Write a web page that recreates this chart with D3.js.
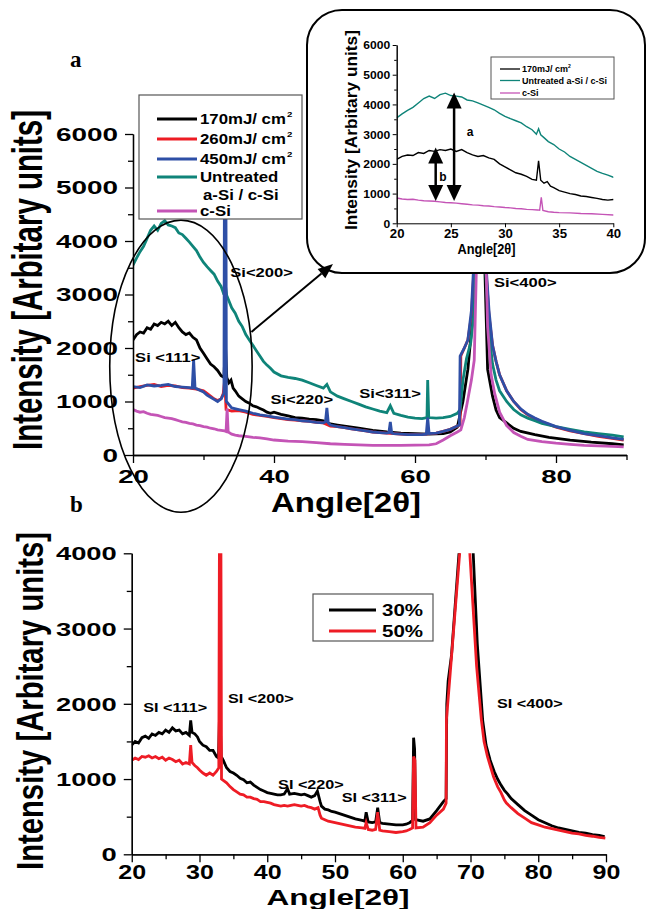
<!DOCTYPE html>
<html><head><meta charset="utf-8">
<script src="https://cdn.jsdelivr.net/npm/d3@7"></script>
<style>
body{margin:0;background:#fff}
svg{display:block}
text{font-family:"Liberation Sans",Arial,sans-serif;font-weight:bold;fill:#000}
.serif{font-family:"Liberation Serif","Times New Roman",serif}
</style>
</head><body><svg id="c" width="646" height="909"></svg>
<script>
// ---------- Panel a data: [angle 2θ, intensity] ----------
const s170 = [[20,2150],[20.5,2250],[21,2300],[21.5,2280],[22,2380],[22.5,2350],[23,2450],[23.5,2420],[24,2480],[24.5,2450],[25,2500],[25.5,2420],[26,2480],[26.5,2380],[27,2300],[27.5,2250],[28,2280],[28.5,2200],[29,2150],[29.5,2000],[30,1900],[30.5,1800],[31,1700],[31.5,1650],[32,1580],[32.5,1480],[32.9,1450],[33.1,2100],[33.3,1450],[33.6,1350],[33.9,1400],[34.2,1250],[34.5,1200],[35,1100],[35.5,1050],[36,1000],[36.5,970],[37,920],[37.5,900],[38,870],[38.5,840],[39,800],[39.5,780],[40,800],[41,760],[42,730],[43,700],[44,690],[45,670],[46,660],[47,640],[48,580],[49,560],[50,540],[52,500],[54,460],[56,430],[58,410],[60,400],[62,390],[64,400],[65,430],[66,520],[66.8,1000],[67.5,1600],[68.2,2600],[68.8,5000],[69.3,9000],[69.8,4000],[70.3,1600],[71,1100],[71.5,840],[72,700],[73,600],[74,500],[75,440],[77,380],[79,330],[82,280],[85,240],[88,210],[89.6,190]];
const s260 = [[20,1250],[21,1280],[22,1300],[23,1320],[24,1280],[25,1300],[26,1290],[27,1260],[28,1250],[29,1230],[30,1200],[30.5,1150],[31,1100],[31.5,1050],[32,1020],[32.5,1050],[32.8,1150],[33,1400],[33.2,850],[34,820],[35,830],[36,800],[37,760],[38,740],[39,720],[40,700],[41,680],[42,660],[43,650],[44,640],[45,630],[46,610],[47,600],[48,540],[49,530],[50,510],[51,490],[52,470],[53,450],[54,430],[55,420],[56,410],[57,400],[58,390],[59,380],[60,380],[61,380],[62,400],[63,410],[64,440],[65,480],[66,540],[66.4,560],[66.5,1850],[67,2000],[67.5,2150],[68,2600],[68.5,3800],[69,8000],[69.5,6000],[70,3600],[70.5,2600],[71,2050],[71.5,1750],[72,1500],[73,1200],[74,1000],[75,850],[76,750],[77,680],[78,620],[80,520],[82,450],[84,400],[86,350],[88,310],[89.6,280]];
const s450 = [[20,1280],[21,1260],[22,1310],[23,1290],[24,1300],[25,1320],[26,1280],[27,1270],[28,1260],[28.4,1250],[28.6,1780],[28.8,1250],[29,1240],[30,1180],[30.5,1120],[31,1080],[31.5,1040],[32,1000],[32.5,1050],[32.9,1150],[33.0,7000],[33.15,7000],[33.25,1000],[34,880],[35,850],[36,820],[37,780],[38,750],[39,730],[40,710],[41,690],[42,670],[43,660],[44,640],[45,630],[46,610],[47,600],[47.3,620],[47.5,880],[47.7,600],[48,560],[49,530],[50,510],[51,490],[52,470],[53,450],[54,430],[55,420],[56,410],[56.3,420],[56.5,620],[56.7,410],[57,400],[58,390],[59,380],[60,380],[61,380],[61.6,390],[61.8,700],[62.0,400],[63,410],[64,440],[65,480],[66,540],[66.3,560],[66.4,1850],[67,2000],[67.5,2150],[68,2700],[68.5,4000],[69,8000],[69.5,6000],[70,3700],[70.5,2700],[71,2050],[71.5,1750],[72,1500],[73,1200],[74,1000],[75,860],[76,760],[77,690],[78,630],[80,530],[82,460],[84,400],[86,360],[88,320],[89.6,290]];
const sUntreated = [[20,3550],[20.5,3680],[21,3800],[21.5,3900],[22,4050],[22.5,4200],[23,4280],[23.5,4200],[24,4330],[24.5,4380],[25,4300],[25.5,4280],[26,4250],[26.5,4150],[27,4120],[27.5,4050],[28,3980],[28.5,3900],[29,3820],[29.5,3700],[30,3600],[30.5,3520],[31,3450],[31.5,3380],[32,3250],[32.5,3150],[32.9,3000],[33.1,3180],[33.3,2980],[33.7,2850],[34,2750],[34.5,2650],[35,2500],[35.5,2400],[36,2250],[36.5,2150],[37,2050],[37.5,1950],[38,1850],[38.5,1750],[39,1680],[39.5,1620],[40,1550],[41,1480],[42,1450],[43,1430],[44,1400],[45,1350],[46,1300],[47,1250],[47.5,1320],[48,1180],[49,1100],[50,1050],[51,1000],[52,950],[53,900],[54,860],[55,820],[56,790],[56.5,920],[57,780],[58,740],[59,710],[60,690],[61,680],[61.7,700],[61.8,1400],[61.95,700],[63,690],[64,700],[65,720],[66,780],[66.4,850],[66.8,1400],[67.3,1800],[67.9,2100],[68.4,2700],[68.8,4500],[69.2,9000],[69.6,6000],[70,3500],[70.5,2300],[71,1700],[71.5,1400],[72,1200],[73,1000],[74,850],[75,750],[76,690],[77,640],[78,590],[80,530],[82,480],[84,430],[86,400],[88,370],[89.6,340]];
const sCSi = [[20,850],[20.5,820],[21,800],[21.5,810],[22,780],[22.5,760],[23,750],[23.5,740],[24,720],[24.5,700],[25,690],[25.5,680],[26,660],[26.5,640],[27,620],[27.5,610],[28,590],[28.5,580],[29,560],[29.5,550],[30,530],[30.5,520],[31,500],[31.5,490],[32,470],[32.5,460],[33,450],[33.2,440],[33.35,870],[33.5,430],[34,390],[34.5,370],[35,360],[36,350],[37,330],[38,320],[39,300],[40,280],[42,260],[44,250],[46,230],[48,210],[50,200],[52,190],[54,180],[56,180],[58,180],[60,185],[62,190],[63,210],[64,280],[65,360],[66,430],[66.5,470],[67,700],[67.4,970],[68,1400],[68.4,1770],[68.8,4000],[69.3,9000],[69.8,5000],[70.3,2400],[70.8,1500],[71.3,1150],[72,800],[73,550],[74,420],[75,350],[76,290],[78,250],[80,220],[82,200],[84,180],[86,170],[88,160],[89.6,150]];

const legendA = ["170mJ/ cm", "260mJ/ cm", "450mJ/ cm", "Untreated", "c-Si"];
const colorsA = ["#000000", "#ed1c24", "#2e4fa6", "#0f8479", "#c454b6"];
const peaksA = [["Si <111>",20.3,1740],["Si<200>",33.8,3330],["Si<220>",39.5,950],["Si<311>",52.1,1065],["Si<400>",71.2,3140]];
const xTicksA = [20,40,60,80], xMinorA = [30,50,70,90];
const yTicksA = [0,1000,2000,3000,4000,5000,6000], yMinorA = [500,1500,2500,3500,4500,5500];
// inset
const legendI = ["170mJ/ cm", "Untreated a-Si / c-Si", "c-Si"];
const xTicksI = [20,25,30,35,40];
const arrowsI = [["a",25.3,4400,750],["b",23.6,2550,750]];

// ---------- Panel b data ----------
const s30 = [[20,1450],[20.5,1500],[21,1480],[21.5,1550],[22,1570],[22.5,1540],[23,1600],[23.5,1580],[24,1620],[24.5,1600],[25,1650],[25.5,1620],[26,1680],[26.5,1640],[27,1650],[27.5,1600],[28,1620],[28.5,1580],[28.7,1780],[28.9,1620],[29.3,1600],[29.7,1560],[30,1500],[30.5,1450],[31,1430],[31.5,1380],[32,1380],[32.5,1300],[32.8,1280],[33,2000],[33.2,1300],[33.5,1250],[34,1150],[34.5,1100],[35,1080],[35.5,1050],[36,1010],[36.5,990],[37,950],[37.5,960],[38,920],[38.5,890],[39,860],[39.5,840],[40,820],[40.5,810],[41,800],[41.5,790],[42,790],[42.5,800],[43,870],[43.3,800],[44,810],[44.5,800],[45,790],[45.5,800],[46,780],[46.5,760],[47,780],[47.4,840],[47.8,700],[48,640],[48.5,600],[49,590],[49.5,570],[50,560],[51,530],[52,500],[53,470],[54,450],[54.4,440],[54.6,560],[54.9,430],[55.5,420],[56,430],[56.3,620],[56.6,420],[57,410],[58,400],[59,390],[60,390],[60.5,400],[61,420],[61.45,450],[61.6,1550],[61.75,1400],[61.9,460],[63,440],[64,470],[65,580],[66,700],[66.4,740],[66.5,2000],[66.7,2300],[67.2,2650],[68.3,4000],[68.6,5000],[70.1,5000],[70.4,4000],[71,2800],[71.8,1780],[72.3,1450],[72.9,1250],[73.5,1100],[74,1000],[74.5,920],[75,850],[75.5,800],[76,740],[77,660],[78,580],[79,520],[80,460],[81,420],[82,380],[83,350],[84,330],[85,310],[86,290],[87,280],[88,260],[89,250],[89.8,235]];
const s50 = [[20,1250],[20.5,1280],[21,1260],[21.5,1300],[22,1290],[22.5,1310],[23,1280],[23.5,1300],[24,1270],[24.5,1290],[25,1250],[25.5,1280],[26,1260],[26.5,1230],[27,1250],[27.5,1200],[28,1220],[28.5,1200],[28.7,1450],[28.9,1220],[29.3,1180],[29.7,1150],[30,1120],[30.5,1080],[31,1050],[31.5,1080],[32,1050],[32.5,1100],[32.85,1150],[32.95,4500],[33.15,4500],[33.25,1000],[34,950],[34.5,900],[35,860],[35.5,830],[36,800],[36.5,790],[37,760],[37.5,760],[38,740],[38.5,730],[39,700],[39.5,700],[40,690],[40.5,680],[41,660],[41.5,650],[42,640],[42.5,650],[43,640],[43.5,650],[44,660],[44.5,650],[45,640],[45.5,650],[46,630],[46.5,620],[47,600],[47.5,620],[47.8,520],[48,480],[48.5,460],[49,440],[49.5,430],[50,420],[51,400],[52,380],[53,360],[54,350],[54.4,345],[54.6,420],[54.9,330],[55.5,320],[56,330],[56.3,560],[56.6,320],[57,310],[58,300],[59,290],[60,300],[60.5,310],[61,330],[61.45,350],[61.6,1300],[61.8,1250],[61.95,350],[63,360],[64,420],[65,520],[66,600],[66.4,680],[66.45,1790],[67,2400],[67.7,3200],[68.4,4000],[68.8,5000],[69.6,5000],[69.9,4000],[70.9,2500],[71.6,1790],[72,1500],[72.5,1300],[73,1150],[73.4,1030],[74,900],[74.5,820],[75,720],[75.3,680],[76,620],[77,540],[78,480],[79,420],[80,390],[81,360],[82,340],[83,320],[84,300],[85,280],[86,270],[87,250],[88,240],[89,225],[89.9,215]];
const legendB = ["30%", "50%"];
const colorsB = ["#000000", "#ee1c25"];
const peaksB = [["SI <111>",21.7,1890],["SI <200>",34.2,2010],["SI <220>",41.6,870],["SI <311>",51.0,697],["SI <400>",73.9,1945]];
const xTicksB = [20,30,40,50,60,70,80,90], xMinorB = [25,35,45,55,65,75,85];
const yTicksB = [0,1000,2000,3000,4000], yMinorB = [500,1500,2500,3500];

// ---------- scales ----------
const xA = d3.scaleLinear().domain([20,90]).range([133,626.5]);
const yA = d3.scaleLinear().domain([0,6000]).range([455,134]);
const xI = d3.scaleLinear().domain([20,40]).range([396.7,613.3]);
const yI = d3.scaleLinear().domain([0,6000]).range([223.3,45]);
const xB = d3.scaleLinear().domain([20,90]).range([131.75,606]);
const yB = d3.scaleLinear().domain([0,4000]).range([854.3,553.3]);

const svg = d3.select('#c');
const defs = svg.append('defs');
function clip(id, x, y) {
  defs.append('clipPath').attr('id', id).append('rect')
    .attr('x', x.range()[0]).attr('y', y.range()[1])
    .attr('width', x.range()[1]-x.range()[0]).attr('height', y.range()[0]-y.range()[1]);
}
clip('cA', xA, yA); clip('cI', xI, yI); clip('cB', xB, yB);

function drawAxes(x, y, o) {
  const g = svg.append('g');
  const y0 = y.range()[0], x0 = x.range()[0];
  const style = sel => { sel.select('.domain').attr('stroke','#000').attr('stroke-width', o.sw); sel.selectAll('.tick line').attr('stroke','#000').attr('stroke-width', o.sw); sel.attr('font-family', null); };
  const xb = g.append('g').attr('transform', `translate(0,${y0})`)
    .call(d3.axisBottom(x).tickValues(o.xt).tickSize(o.tl).tickSizeOuter(0).tickFormat(d3.format('d'))).call(style);
  xb.selectAll('text').attr('y', o.xoff).attr('dy', 0).attr('font-size', o.xfs).attr('transform', `scale(${o.xsx},1)`);
  if (o.xm) g.append('g').attr('transform', `translate(0,${y0})`)
    .call(d3.axisBottom(x).tickValues(o.xm).tickSize(o.ml).tickSizeOuter(0).tickFormat('')).call(style);
  const yl = g.append('g').attr('transform', `translate(${x0},0)`)
    .call(d3.axisLeft(y).tickValues(o.yt).tickSize(o.tl).tickSizeOuter(0).tickFormat(d3.format('d'))).call(style);
  yl.selectAll('text').attr('x', -o.yoff/o.ysx).attr('dy', '0.36em').attr('font-size', o.yfs).attr('transform', `scale(${o.ysx},1)`);
  if (o.ym) g.append('g').attr('transform', `translate(${x0},0)`)
    .call(d3.axisLeft(y).tickValues(o.ym).tickSize(o.ml).tickSizeOuter(0).tickFormat('')).call(style);
}
function drawLines(series, colors, x, y, clipId, w) {
  const line = d3.line().x(d => x(d[0])).y(d => y(d[1]));
  const g = svg.append('g').attr('clip-path', `url(#${clipId})`);
  series.forEach((s, i) => g.append('path').datum(s).attr('d', line)
    .attr('fill', 'none').attr('stroke', colors[i]).attr('stroke-width', w));
}
function stretchedText(parent, str, px, py, fs, sx, anchor) {
  return parent.append('text').attr('transform', `translate(${px},${py}) scale(${sx},1)`)
    .attr('font-size', fs).attr('text-anchor', anchor || 'start').text(str);
}

// ---------- Panel a ----------
drawLines([s170, s260, sUntreated, s450, sCSi], [colorsA[0], colorsA[1], colorsA[3], colorsA[2], colorsA[4]], xA, yA, 'cA', 2.8);
drawAxes(xA, yA, {xt: xTicksA, xm: xMinorA, yt: yTicksA, ym: yMinorA, tl: 8, ml: 5, sw: 1.3,
  xoff: 28, xfs: 19, xsx: 1.45, yoff: 15, yfs: 18, ysx: 1.55});
peaksA.forEach(p => stretchedText(svg, p[0], xA(p[1]), yA(p[2]), 12, 1.38));
svg.append('text').attr('x', 346).attr('y', 512).attr('font-size', 28).attr('text-anchor', 'middle')
  .attr('textLength', 150).attr('lengthAdjust', 'spacingAndGlyphs').text('Angle[2θ]');
svg.append('text').attr('transform', 'translate(42,280) scale(1.32,1) rotate(-90)').attr('font-size', 32)
  .attr('text-anchor', 'middle').attr('textLength', 340).attr('lengthAdjust', 'spacingAndGlyphs')
  .text('Intensity [Arbitary units]');
svg.append('text').attr('class', 'serif').attr('x', 70).attr('y', 67).attr('font-size', 23).text('a');
svg.append('ellipse').attr('cx', xA(26.8)).attr('cy', yA(1660))
  .attr('rx', xA(36.9) - xA(26.8)).attr('ry', yA(-1070) - yA(1660))
  .attr('fill', 'none').attr('stroke', '#000').attr('stroke-width', 1.6);
const lg = svg.append('g');
lg.append('rect').attr('x', 139).attr('y', 95).attr('width', 163).attr('height', 124)
  .attr('fill', '#fff').attr('stroke', '#555').attr('stroke-width', 1.2);
const rowsA = [119, 139, 159, 177, 211];
legendA.forEach((t, i) => {
  lg.append('line').attr('x1', 157).attr('x2', 197).attr('y1', rowsA[i]).attr('y2', rowsA[i])
    .attr('stroke', colorsA[i]).attr('stroke-width', 3);
  const tx = stretchedText(lg, t, 200, rowsA[i] + 5, 14, 1.2);
  if (i < 3) tx.append('tspan').attr('font-size', 8).attr('dy', -7).attr('dx', 1).text('2');
});
stretchedText(lg, 'a-Si / c-Si', 203, 200, 14, 1.2);

// ---------- Inset ----------
const ig = svg.append('g');
ig.append('rect').attr('x', 307).attr('y', 10).attr('width', 338).attr('height', 263).attr('rx', 35)
  .attr('fill', '#fff').attr('stroke', '#000').attr('stroke-width', 2);
drawLines([sUntreated, s170, sCSi], [colorsA[3], colorsA[0], colorsA[4]], xI, yI, 'cI', 1.4);
drawAxes(xI, yI, {xt: xTicksI, xm: null, yt: yTicksA, ym: yMinorA, tl: 4, ml: 2.5, sw: 1,
  xoff: 15, xfs: 12, xsx: 1.1, yoff: 6.5, yfs: 11, ysx: 1.1});
svg.append('text').attr('x', 486.5).attr('y', 254).attr('font-size', 15).attr('text-anchor', 'middle')
  .attr('textLength', 58).attr('lengthAdjust', 'spacingAndGlyphs').text('Angle[2θ]');
svg.append('text').attr('transform', 'translate(357,130) rotate(-90)').attr('font-size', 17)
  .attr('text-anchor', 'middle').attr('textLength', 200).attr('lengthAdjust', 'spacingAndGlyphs')
  .text('Intensity [Arbitary units]');
const il = svg.append('g');
il.append('rect').attr('x', 491).attr('y', 57).attr('width', 123).attr('height', 42)
  .attr('fill', '#fff').attr('stroke', '#555').attr('stroke-width', 1);
const rowsI = [69, 80.5, 93];
const colorsI = [colorsA[0], colorsA[3], colorsA[4]];
legendI.forEach((t, i) => {
  il.append('line').attr('x1', 500).attr('x2', 520).attr('y1', rowsI[i]).attr('y2', rowsI[i])
    .attr('stroke', colorsI[i]).attr('stroke-width', 1.3);
  const tx = il.append('text').attr('x', 522).attr('y', rowsI[i] + 3.3).attr('font-size', 9).text(t);
  if (i === 0) tx.append('tspan').attr('font-size', 5).attr('dy', -4).text('2');
});
arrowsI.forEach(a => {
  const ax = xI(a[1]), yt = yI(a[2]), yb = yI(a[3]);
  svg.append('line').attr('x1', ax).attr('x2', ax).attr('y1', yt + 14).attr('y2', yb - 14)
    .attr('stroke', '#000').attr('stroke-width', 2.5);
  svg.append('path').attr('d', `M${ax},${yt} L${ax-7.5},${yt+16} L${ax+7.5},${yt+16}Z`).attr('fill', '#000');
  svg.append('path').attr('d', `M${ax},${yb} L${ax-7.5},${yb-16} L${ax+7.5},${yb-16}Z`).attr('fill', '#000');
});
svg.append('text').attr('x', 470).attr('y', 136).attr('font-size', 12).attr('text-anchor', 'middle').text('a');
svg.append('text').attr('x', 443).attr('y', 181).attr('font-size', 12).attr('text-anchor', 'middle').text('b');
{
  const x1 = xA(36.8), y1 = yA(2300), x2 = 333, y2 = 264;
  const ang = Math.atan2(y2 - y1, x2 - x1), L = 15, W = 6;
  const bx = x2 - L * Math.cos(ang), by = y2 - L * Math.sin(ang);
  svg.append('line').attr('x1', x1).attr('y1', y1).attr('x2', bx).attr('y2', by)
    .attr('stroke', '#000').attr('stroke-width', 2);
  svg.append('path').attr('d', `M${x2},${y2} L${bx + W*Math.sin(ang)},${by - W*Math.cos(ang)} L${bx - W*Math.sin(ang)},${by + W*Math.cos(ang)}Z`).attr('fill', '#000');
}

// ---------- Panel b ----------
drawLines([s30, s50], colorsB, xB, yB, 'cB', 2.8);
drawAxes(xB, yB, {xt: xTicksB, xm: xMinorB, yt: yTicksB, ym: yMinorB, tl: 8, ml: 5, sw: 1.3,
  xoff: 25, xfs: 20, xsx: 1.25, yoff: 15, yfs: 18, ysx: 1.52});
peaksB.forEach(p => stretchedText(svg, p[0], xB(p[1]), yB(p[2]), 12, 1.35));
svg.append('text').attr('x', 338).attr('y', 905).attr('font-size', 22).attr('text-anchor', 'middle')
  .attr('textLength', 143).attr('lengthAdjust', 'spacingAndGlyphs').text('Angle[2θ]');
svg.append('text').attr('transform', 'translate(43,701) scale(1.25,1) rotate(-90)').attr('font-size', 29)
  .attr('text-anchor', 'middle').attr('textLength', 338).attr('lengthAdjust', 'spacingAndGlyphs')
  .text('Intensity [Arbitary units]');
svg.append('text').attr('class', 'serif').attr('x', 70).attr('y', 512).attr('font-size', 23).text('b');
const lb = svg.append('g');
lb.append('rect').attr('x', 313).attr('y', 594).attr('width', 120).attr('height', 47)
  .attr('fill', '#fff').attr('stroke', '#555').attr('stroke-width', 1.2);
[610, 631].forEach((ry, i) => {
  lb.append('line').attr('x1', 329).attr('x2', 376).attr('y1', ry).attr('y2', ry)
    .attr('stroke', colorsB[i]).attr('stroke-width', 3);
  stretchedText(lb, legendB[i], 382, ry + 6, 16, 1.28);
});
</script>
</body></html>
